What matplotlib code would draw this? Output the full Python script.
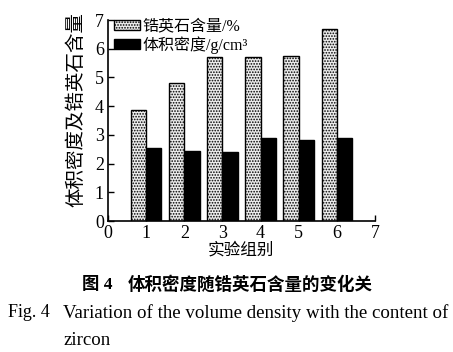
import matplotlib
matplotlib.use("Agg")
import matplotlib.pyplot as plt
import numpy as np

plt.rcParams['font.family'] = ['Liberation Serif', 'Noto Sans CJK SC']
plt.rcParams['hatch.linewidth'] = 0.8
plt.rcParams['hatch.color'] = '#666666'

groups = [1, 2, 3, 4, 5, 6]
zircon = [3.87, 4.80, 5.72, 5.72, 5.75, 6.68]
density = [2.55, 2.45, 2.42, 2.88, 2.83, 2.88]
xticks = [0, 1, 2, 3, 4, 5, 6, 7]
yticks = [0, 1, 2, 3, 4, 5, 6, 7]

fig = plt.figure(figsize=(4.53, 3.52), dpi=100)
ax = fig.add_axes([0.2384, 0.372, 0.5894, 0.571])

x = np.array(groups, dtype=float)
w = 0.4
ax.bar(x - w/2, zircon, width=w, facecolor='#ececec', edgecolor='black',
       hatch='......', linewidth=1.0, label='锆英石含量/%')
ax.bar(x + w/2, density, width=w, facecolor='black', edgecolor='black',
       linewidth=1.0, label='体积密度/g/cm³')

ax.set_xlim(0, 7)
ax.set_ylim(0, 7)
ax.set_xticks(xticks)
ax.set_yticks(yticks)
ax.tick_params(direction='in', labelsize=13, length=4, width=1, pad=3)
for s in ['top', 'right']:
    ax.spines[s].set_visible(False)
for s in ['left', 'bottom']:
    ax.spines[s].set_linewidth(1.2)

ax.set_xlabel('实验组别', fontsize=12, labelpad=0)
ax.set_ylabel('体积密度及锆英石含量', fontsize=14)
ax.yaxis.set_label_coords(-0.085, 0.555)

ax.legend(loc='upper left', frameon=False, fontsize=11.5, handlelength=1.6,
          handleheight=0.6, handletextpad=0.15, labelspacing=0.1,
          borderaxespad=0.0, bbox_to_anchor=(0.0, 1.04))

fig.text(82/453, 0.19, '图 4', ha='left', va='center', fontsize=12.5, fontweight='bold')
fig.text(128/453, 0.19, '体积密度随锆英石含量的变化关', ha='left', va='center',
         fontsize=12.6, fontweight='bold')
fig.text(8/453, 0.111, 'Fig. 4', ha='left', va='center', fontsize=13)
fig.text(63/453, 0.111, 'Variation of the volume density with the content of',
         ha='left', va='center', fontsize=13.6)
fig.text(63/453, 0.034, 'zircon', ha='left', va='center', fontsize=13.6)

fig.savefig('out.png', dpi=100)
